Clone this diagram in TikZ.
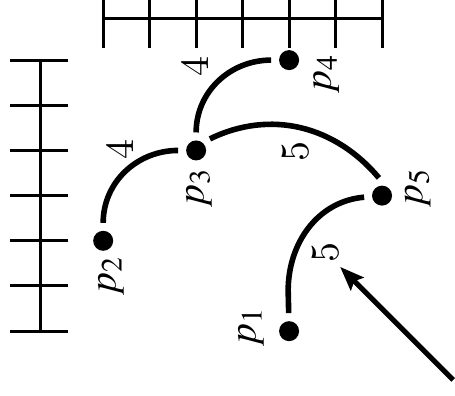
\documentclass[tikz,border=0pt]{standalone}
\usepackage{mathptmx}
\usetikzlibrary{arrows.meta}

\begin{document}
\begin{tikzpicture}[x=11.3pt,y=11.625pt,rotate=90,transform shape,
        vertex/.style={circle,fill=black,minimum size=5pt,inner sep=0pt,outer sep=2pt},
        plabel/.style={inner sep=1pt},
        weight/.style={inner sep=1pt},
        ruler/.style={line width=0.75pt},
        arc/.style={line width=1.4pt}]

    \clip (-1.43,-1.57) rectangle (7.33,8.22);

    % rulers
    \draw[ruler] (0,7.35) -- (6,7.35);
    \draw[ruler] (6.93,0) -- (6.93,6);
    \foreach \i in {0,...,6} {
        \draw[ruler] (\i,6.75) -- (\i,8);
        \draw[ruler] (6.27,\i) -- (7.6,\i);
    }

    \node[vertex] (1) at (0,2) {};
    \node[vertex] (2) at (2,6) {};
    \node[vertex] (3) at (4,4) {};
    \node[vertex] (4) at (6,2) {};
    \node[vertex] (5) at (3,0) {};

    \node[plabel] (n1) at (0.09,2.82) {$p_1$};
    \node[plabel] (n2) at (1.22,5.83) {$p_2$};
    \node[plabel] (n3) at (3.17,3.94) {$p_3$};
    \node[plabel] (n4) at (5.71,1.20) {$p_4$};
    \node[plabel] (n5) at (3.17,-0.77) {$p_5$};

    \draw[arc] (4) to[out=90,in=0] (3);
    \draw[arc] (3) to[out=90,in=0] (2);
    \draw[arc] (3.-50) to[out=-64,in=40] (5.10);
    \draw[arc] (5) to[out=95,in=0] ++(-2.1,2.02) -- (1);

    \node[weight] (w34) at (5.85,4.02) {4};
    \node[weight] (w23) at (4.01,5.63) {4};
    \node[weight] (w35) at (3.97,1.87) {5};
    \node[weight] (w15) at (1.75,1.22) {5};

    \coordinate (tail) at (-1.08,-1.53);
    \draw[line width=1.3pt,-{Stealth[length=6pt,width=4.5pt,inset=1pt]}] (tail) -- (w15);
\end{tikzpicture}
\end{document}
